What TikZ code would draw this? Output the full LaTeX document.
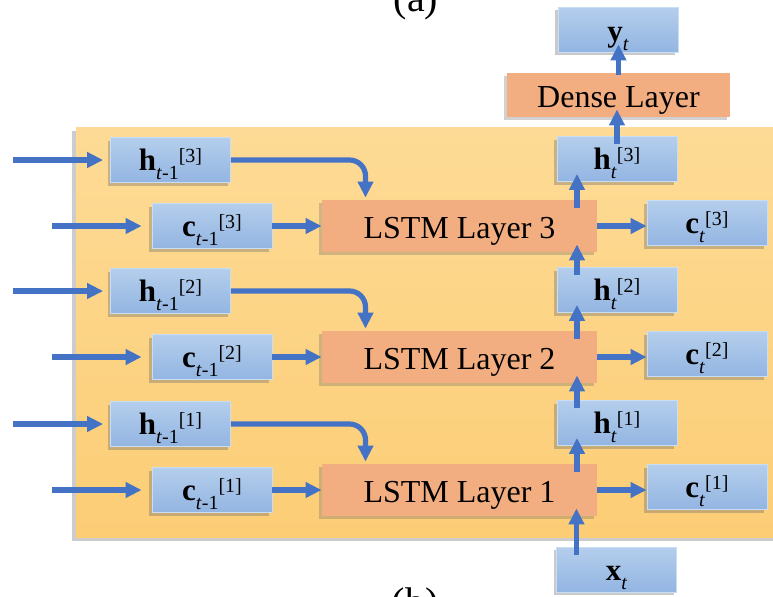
\documentclass[tikz,border=0pt]{standalone}
\usepackage{fontspec}
\setmainfont{Liberation Serif}
\usetikzlibrary{arrows.meta,positioning,shadows}

\definecolor{arrowblue}{HTML}{4472C4}
\definecolor{boxtop}{HTML}{B4CEEC}
\definecolor{boxbot}{HTML}{93B5E2}
\definecolor{boxedge}{HTML}{C9DDF3}
\definecolor{lstmfill}{HTML}{F2AE80}
\definecolor{bgtop}{HTML}{FDDB96}
\definecolor{bgbot}{HTML}{FCCD75}

\newcommand{\lblsz}{\fontsize{15.5}{17}\selectfont}
\newcommand{\subsz}{\fontsize{10}{11}\selectfont}
% bold symbol with subscript and layer index
\newcommand{\statesym}[3]{\textbf{#1}\raisebox{-4.5pt}{\subsz #2}\raisebox{4pt}{\subsz[#3]}}
\newcommand{\iosym}[2]{\textbf{#1}\raisebox{-4.5pt}{\subsz\textit{#2}}}

\begin{document}
\begin{tikzpicture}[
    x=0.5pt, y=-0.5pt,
    vbox/.style={rectangle, draw=boxedge, line width=0.4pt, top color=boxtop, bottom color=boxbot,
        minimum width=60pt, minimum height=22.5pt, inner sep=0pt, text height=16.5pt, text depth=6pt,
        font=\lblsz,
        drop shadow={shadow xshift=-1.5pt, shadow yshift=-1.5pt, fill=black!60, opacity=0.35}},
    layerbox/.style={rectangle, fill=lstmfill, minimum width=137.5pt, minimum height=26pt, inner sep=0pt,
        text height=19pt, text depth=7pt, font=\fontsize{16}{18}\selectfont,
        drop shadow={shadow xshift=-1.5pt, shadow yshift=-1.5pt, fill=black!60, opacity=0.3}},
    arrow/.style={-{Triangle[length=8pt,width=7.5pt]}, line width=2.6pt, arrowblue},
    uparrow/.style={arrow, shorten <=-4pt, shorten >=-4pt}
]
    \useasboundingbox (0,0) rectangle (773,596);

    % panel behind the stacked layers
    \path[top color=bgtop, bottom color=bgbot,
        drop shadow={shadow xshift=-2pt, shadow yshift=-2pt, fill=black!50, opacity=0.4}]
        (76,127) rectangle (790,537);

    \node[anchor=base, font=\fontsize{20}{22}\selectfont] (capa) at (416,11) {(a)};
    \node[anchor=base, font=\fontsize{20}{22}\selectfont] (capb) at (415,615) {(b)};

    % one row of boxes per LSTM layer
    \foreach \l/\y in {1/490, 2/357, 3/226} {
        \node[layerbox] (lstm\l) at (459.5,\y) {LSTM Layer \l};
        \node[vbox] (hp\l) at (170.5,\y-66) {\statesym{h}{\textit{t}-1}{\l}};
        \node[vbox] (cp\l) at (212,\y) {\statesym{c}{\textit{t}-1}{\l}};
        \node[vbox] (ht\l) at (617,\y-67) {\statesym{h}{\textit{t}}{\l}};
        \node[vbox] (ct\l) at (707,\y-3) {\statesym{c}{\textit{t}}{\l}};
        \coordinate (inh\l) at (13,\y-66);
        \coordinate (inc\l) at (52,\y);

        \draw[arrow] (inh\l) -- ([xshift=-3.5pt]hp\l.west);
        \draw[arrow] (inc\l) -- ([xshift=-5pt]cp\l.west);
        \draw[arrow] (cp\l.east) -- (cp\l.east -| lstm\l.west);
        \draw[arrow, rounded corners=8pt] (hp\l.east) -| ([xshift=-47pt,yshift=1pt]lstm\l.north);
        \draw[arrow] (lstm\l.east) -- (lstm\l.east -| ct\l.west);
        \draw[uparrow] ([xshift=-20pt]ht\l.south |- lstm\l.north) -- ([xshift=-20pt]ht\l.south);
    }

    \node[vbox] (xt) at (616.5,569.5) {\iosym{x}{t}};
    \node[layerbox, minimum width=111.5pt, minimum height=22pt, text height=17pt, text depth=5pt]
        (dense) at (618.5,95) {Dense Layer};
    \node[vbox, text height=17pt, text depth=5.5pt] (yt) at (618,29.5) {\iosym{y}{t}};

    \foreach \l/\n in {1/2, 2/3}
        \draw[uparrow] ([xshift=-20pt]ht\l.north) -- ([xshift=-20pt]ht\l.north |- lstm\n.south);
    \draw[uparrow] ([xshift=-20pt]xt.north) -- ([xshift=-20pt]xt.north |- lstm1.south);
    \draw[uparrow] (ht3.north) -- (ht3.north |- dense.south);
    \draw[uparrow, shorten <=-1pt] (dense.north) -- (dense.north |- yt.south);
\end{tikzpicture}
\end{document}
